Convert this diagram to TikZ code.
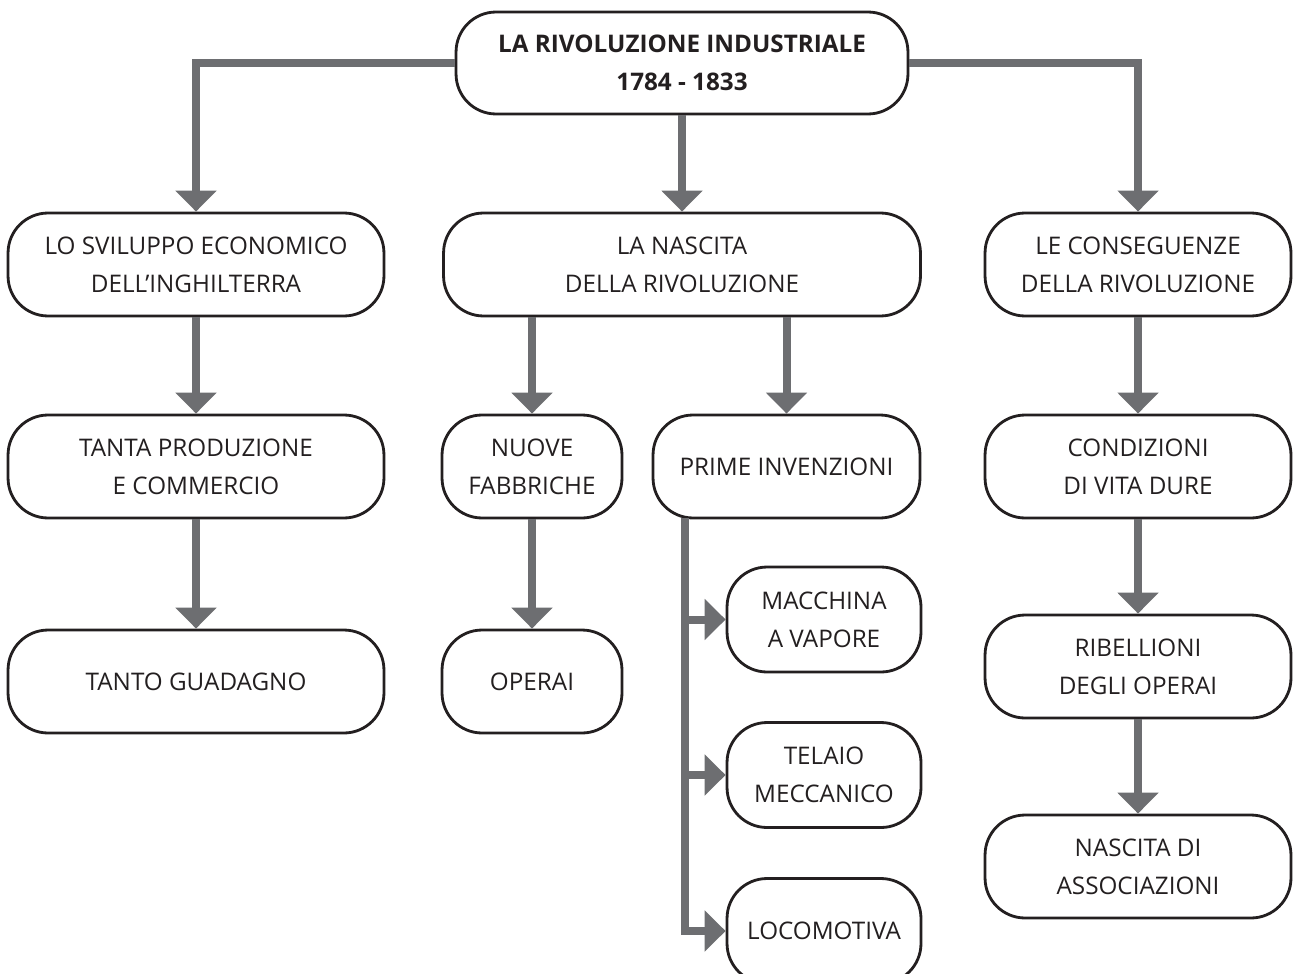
\documentclass[tikz,border=0pt]{standalone}
\usepackage{fontspec}
\setmainfont{Open Sans}
\usetikzlibrary{arrows.meta}
\definecolor{arrowgray}{HTML}{6D6E71}
\definecolor{inkdark}{HTML}{231F20}
\tikzset{
  box/.style={draw=inkdark,text=inkdark,line width=1.6pt,rounded corners=0.8cm,fill=white,align=center,
    minimum height=2.06cm,inner sep=0pt,font=\fontsize{13.8}{21.5}\selectfont},
  link/.style={arrowgray,line width=0.16cm,line join=miter,
    -{Triangle[width=0.8cm,length=0.42cm]}},
  trunk/.style={arrowgray,line width=0.16cm,line join=miter}
}
\begin{document}
\begin{tikzpicture}[x=0.02cm,y=-0.02cm]
\useasboundingbox (0,0) rectangle (1293,973);
\clip (0,0) rectangle (1293,973);
% title
\node[box,minimum width=9.04cm,minimum height=2.04cm,font=\fontsize{13.8}{21.5}\selectfont\bfseries] (title) at (682,63) {LA RIVOLUZIONE INDUSTRIALE\\1784 - 1833};
% first row
\node[box,minimum width=7.52cm] (econ) at (196,264.5) {LO SVILUPPO ECONOMICO\\DELL’INGHILTERRA};
\node[box,minimum width=9.54cm] (birth) at (682,264.5) {LA NASCITA\\DELLA RIVOLUZIONE};
\node[box,minimum width=6.12cm] (effects) at (1138,264.5) {LE CONSEGUENZE\\DELLA RIVOLUZIONE};
% second row
\node[box,minimum width=7.52cm] (trade) at (196,466.5) {TANTA PRODUZIONE\\E COMMERCIO};
\node[box,minimum width=3.6cm] (factories) at (532,466.5) {NUOVE\\FABBRICHE};
\node[box,minimum width=5.34cm] (inventions) at (786.5,466.5) {PRIME INVENZIONI};
\node[box,minimum width=6.12cm] (life) at (1138,466.5) {CONDIZIONI\\DI VITA DURE};
% third row
\node[box,minimum width=7.52cm] (profit) at (196,681.5) {TANTO GUADAGNO};
\node[box,minimum width=3.6cm] (workers) at (532,681.5) {OPERAI};
\node[box,minimum width=6.12cm] (revolts) at (1138,666.5) {RIBELLIONI\\DEGLI OPERAI};
\node[box,minimum width=6.12cm] (unions) at (1138,866.5) {NASCITA DI\\ASSOCIAZIONI};
% inventions
\node[box,minimum width=3.88cm,minimum height=2.1cm] (engine) at (824,619.5) {MACCHINA\\A VAPORE};
\node[box,minimum width=3.88cm,minimum height=2.1cm] (loom) at (824,775) {TELAIO\\MECCANICO};
\node[box,minimum width=3.88cm,minimum height=2.1cm] (loco) at (824,931) {LOCOMOTIVA};
% arrows
\draw[link] (title.west) -| (econ.north);
\draw[link] (title.east) -| (effects.north);
\draw[link] (title.south) -- (birth.north);
\draw[link] (econ) -- (trade);
\draw[link] (trade) -- (profit);
\draw[link] (birth.south -| factories.north) -- (factories.north);
\draw[link] (birth.south -| inventions.north) -- (inventions.north);
\draw[link] (factories) -- (workers);
\draw[link] (effects) -- (life);
\draw[link] (life) -- (revolts);
\draw[link] (revolts) -- (unions);
\coordinate (fork) at (685,518);
\draw[trunk] (fork) -- (685,931);
\draw[link] (fork) |- (engine.west);
\draw[link] (fork) |- (loom.west);
\draw[link] (fork) |- (loco.west);
\end{tikzpicture}
\end{document}
